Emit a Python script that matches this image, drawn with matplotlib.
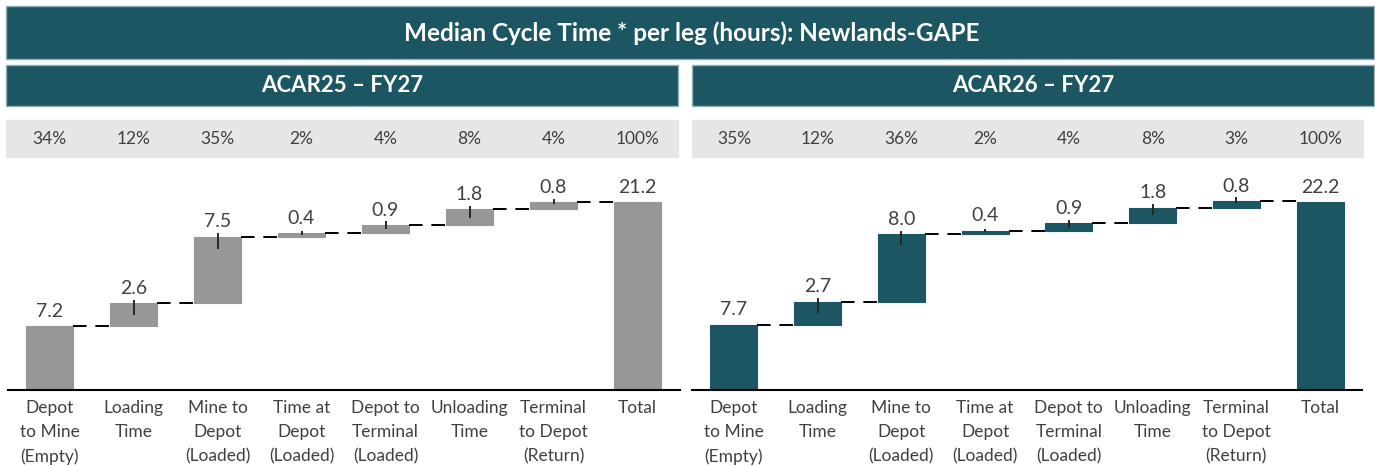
import matplotlib
matplotlib.use("Agg")
import matplotlib.pyplot as plt
import matplotlib.transforms as mtransforms
from matplotlib.patches import Rectangle

# ---------------- data ----------------
categories = ["Depot\nto Mine\n(Empty)", "Loading\nTime", "Mine to\nDepot\n(Loaded)",
              "Time at\nDepot\n(Loaded)", "Depot to\nTerminal\n(Loaded)", "Unloading\nTime",
              "Terminal\nto Depot\n(Return)", "Total"]

left_title = "ACAR25 \u2013 FY27"
left_values = [7.2, 2.6, 7.5, 0.4, 0.9, 1.8, 0.8]
left_total = 21.2
left_pct = ["34%", "12%", "35%", "2%", "4%", "8%", "4%", "100%"]
left_err_up = [0.0, 0.37, 0.45, 0.26, 0.42, 0.30, 0.34]
left_err_down = [0.0, 1.32, 1.35, 0.23, 0.45, 1.01, 0.27]

right_title = "ACAR26 \u2013 FY27"
right_values = [7.7, 2.7, 8.0, 0.4, 0.9, 1.8, 0.8]
right_total = 22.2
right_pct = ["35%", "12%", "36%", "2%", "4%", "8%", "3%", "100%"]
right_err_up = [0.0, 0.47, 0.39, 0.27, 0.32, 0.51, 0.44]
right_err_down = [0.0, 1.30, 1.33, 0.20, 0.59, 0.86, 0.27]

main_title = "Median Cycle Time * per leg (hours): Newlands-GAPE"

# ---------------- styling ----------------
TEAL = "#1B5662"
EDGE = "#8FB0B5"
GREY_BAR = "#979797"
STRIP = "#E6E6E6"
TXT = "#404040"
FONT = ["Lato", "DejaVu Sans"]
plt.rcParams["font.family"] = FONT

W, H = 1375, 466
fig = plt.figure(figsize=(W / 100, H / 100), dpi=100)


def fx(px):
    return px / W


def fy(py):
    return 1 - py / H


def banner(x0, x1, y0, y1, color, edge=None):
    fig.patches.append(Rectangle((fx(x0), fy(y1)), fx(x1 - x0), (y1 - y0) / H,
                                 transform=fig.transFigure, facecolor=color,
                                 edgecolor=edge if edge else color, linewidth=1.0,
                                 zorder=-5))


# top banner
banner(6, 1374, 6, 59, TEAL, EDGE)
fig.text(fx(692), fy(33), main_title, color="white", fontsize=17.5, fontweight="bold",
         ha="center", va="center")


def panel(x0, x1, ax_left, ax_right, title, values, total, pct, eu, ed, color, strip_right):
    # sub banner
    banner(x0, x1, 65, 106, TEAL, EDGE)
    fig.text(fx((x0 + x1) / 2), fy(86), title, color="white", fontsize=16,
             fontweight="bold", ha="center", va="center")
    # grey strip
    banner(x0, strip_right, 120, 157, STRIP)

    ax = fig.add_axes([fx(ax_left), fy(390), fx(ax_right - ax_left), (390 - 160) / H])
    n = len(values)
    xs = list(range(n + 1))
    bottoms = []
    cum = 0.0
    for v in values:
        bottoms.append(cum)
        cum += v
    heights = values + [total]
    bottoms = bottoms + [0.0]
    width = 0.56
    ax.bar(xs, heights, bottom=bottoms, width=width, color=color,
           edgecolor=color, linewidth=0.8, zorder=2)

    # connectors
    tops = [b + h for b, h in zip(bottoms, heights)]
    for i in range(n):
        ax.plot([xs[i] + width / 2, xs[i + 1] - width / 2], [tops[i], tops[i]],
                color="black", lw=1.4, dashes=(7, 4.5), zorder=3)

    # error bars
    for i in range(n):
        if eu[i] == 0 and ed[i] == 0:
            continue
        ax.errorbar(xs[i], tops[i], yerr=[[ed[i]], [eu[i]]], fmt="none",
                    ecolor="#262626", elinewidth=1.4, capsize=0, zorder=4)

    # value labels
    for i, h in enumerate(heights):
        ax.annotate(f"{h:.1f}", (xs[i], tops[i]), xytext=(0, 6.8),
                    textcoords="offset points", ha="center", va="baseline",
                    fontsize=14, color=TXT)

    # percentage row
    trans = mtransforms.blended_transform_factory(ax.transData, fig.transFigure)
    for i, p in enumerate(pct):
        ax.text(xs[i], fy(138.5), p, transform=trans, ha="center", va="center",
                fontsize=12.5, color=TXT, clip_on=False)

    ax.set_xlim(-0.5, n + 0.5)
    ax.set_ylim(0, total * 230 / 188)
    ax.set_xticks(xs)
    ax.set_xticklabels(categories, fontsize=12.5, color=TXT, linespacing=1.62)
    ax.tick_params(axis="x", length=0, pad=7.5)
    ax.set_yticks([])
    for s in ["top", "right", "left"]:
        ax.spines[s].set_visible(False)
    ax.spines["bottom"].set_color("black")
    ax.spines["bottom"].set_linewidth(1.5)
    ax.patch.set_alpha(0)
    return ax


panel(6, 678, 7.5, 679.5, left_title, left_values, left_total, left_pct,
      left_err_up, left_err_down, GREY_BAR, 678)
panel(692, 1374, 692, 1362, right_title, right_values, right_total, right_pct,
      right_err_up, right_err_down, TEAL, 1363)

fig.savefig("out.png", dpi=100)
